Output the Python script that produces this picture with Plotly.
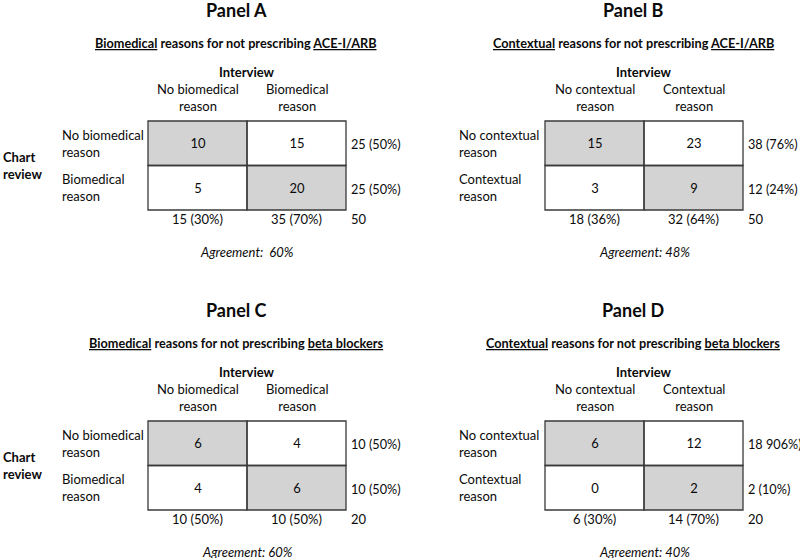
import plotly.graph_objects as go

# ---------------- data ----------------
panel_titles = ["Panel A", "Panel B", "Panel C", "Panel D"]
reason_types = ["Biomedical", "Contextual", "Biomedical", "Contextual"]
drugs = ["ACE-I/ARB", "ACE-I/ARB", "beta blockers", "beta blockers"]
col_labels = [
    ["No biomedical<br>reason", "Biomedical<br>reason"],
    ["No contextual<br>reason", "Contextual<br>reason"],
    ["No biomedical<br>reason", "Biomedical<br>reason"],
    ["No contextual<br>reason", "Contextual<br>reason"],
]
row_labels = col_labels
counts = [
    [[10, 15], [5, 20]],
    [[15, 23], [3, 9]],
    [[6, 4], [4, 6]],
    [[6, 12], [0, 2]],
]
row_totals = [
    ["25 (50%)", "25 (50%)"],
    ["38 (76%)", "12 (24%)"],
    ["10 (50%)", "10 (50%)"],
    ["18 906%)", "2 (10%)"],
]
col_totals = [
    ["15 (30%)", "35 (70%)"],
    ["18 (36%)", "32 (64%)"],
    ["10 (50%)", "10 (50%)"],
    ["6 (30%)", "14 (70%)"],
]
grand_totals = ["50", "50", "20", "20"]
agreements = ["Agreement:\u00a0 60%", "Agreement: 48%", "Agreement: 60%", "Agreement: 40%"]

# ---------------- layout constants (pixel space) ----------------
W, H = 800, 558
OX = [0, 397, 0, 397]
OY = [0, 0, 300, 300]
TBL_L, TBL_T = 148, 121
CW, CH = 99, 44.5
FONT = "Lato, 'Open Sans', sans-serif"
INK = "#0a0a0a"
GRAY = "#d3d3d3"
BORDER = "#3a3a3a"

fig = go.Figure()
annotations = []
shapes = []


def ann(x, y, text, size=13, xanchor="center", bold=False, italic=False):
    t = text
    if bold:
        t = "<b>" + t + "</b>"
    if italic:
        t = "<i>" + t + "</i>"
    annotations.append(dict(
        x=x, y=y, xref="x", yref="y", text=t, showarrow=False,
        xanchor=xanchor, yanchor="middle", align="left" if xanchor == "left" else "center",
        font=dict(family=FONT, size=size, color=INK),
    ))


U = '<span style="text-decoration:underline">{}</span>'

for p in range(4):
    ox, oy = OX[p], OY[p]
    cx = [ox + TBL_L + CW * (j + 0.5) for j in range(2)]
    cy = [oy + TBL_T + CH * (i + 0.5) for i in range(2)]
    mid_x = ox + TBL_L + CW
    tbl_r = ox + TBL_L + 2 * CW

    # cells: diagonal (agreement) shaded
    mask = [[1 if i == j else 0 for j in range(2)] for i in range(2)]
    fig.add_trace(go.Heatmap(
        x=cx, y=cy, z=mask, text=[[str(v) for v in r] for r in counts[p]],
        texttemplate="%{text}", textfont=dict(family=FONT, size=13, color=INK),
        colorscale=[[0, "white"], [1, GRAY]], zmin=0, zmax=1,
        showscale=False, hoverinfo="skip",
    ))
    for i in range(2):
        for j in range(2):
            shapes.append(dict(
                type="rect", xref="x", yref="y",
                x0=ox + TBL_L + CW * j, x1=ox + TBL_L + CW * (j + 1),
                y0=oy + TBL_T + CH * i, y1=oy + TBL_T + CH * (i + 1),
                line=dict(color=BORDER, width=1.3), fillcolor="rgba(0,0,0,0)",
            ))

    # titles
    ann(ox + 236, oy + 10, panel_titles[p], size=18, bold=True)
    sub = ("<b>" + U.format(reason_types[p]) + " reasons for not prescribing "
           + U.format(drugs[p]) + "</b>")
    ann(ox + 236, oy + 43, sub, size=12.7)
    ann(mid_x, oy + 72, "Interview", size=13, bold=True)

    # column headers and totals
    for j in range(2):
        ann(cx[j], oy + 97.5, col_labels[p][j])
        ann(cx[j], oy + 219, col_totals[p][j])
    ann(tbl_r + 3, oy + 219, grand_totals[p], xanchor="left")

    # row labels and totals
    for i in range(2):
        ann(ox + 60, cy[i], row_labels[p][i], xanchor="left")
        ann(tbl_r + 3, cy[i] + 1, row_totals[p][i], xanchor="left", size=12.7)

    if p % 2 == 0:
        ann(ox + 0.5, oy + TBL_T + CH, "Chart<br>review", xanchor="left", bold=True)

    ann(mid_x, oy + 251.5, agreements[p], italic=True)

fig.update_layout(
    width=W, height=H,
    margin=dict(l=0, r=0, t=0, b=0),
    paper_bgcolor="white", plot_bgcolor="white",
    xaxis=dict(range=[0, W], visible=False, fixedrange=True),
    yaxis=dict(range=[H, 0], visible=False, fixedrange=True),
    annotations=annotations, shapes=shapes,
    showlegend=False,
)
fig.write_html(
    "out.html",
    config={"displayModeBar": False},
    post_script="document.body.style.margin='0';document.body.style.overflow='hidden';",
)
